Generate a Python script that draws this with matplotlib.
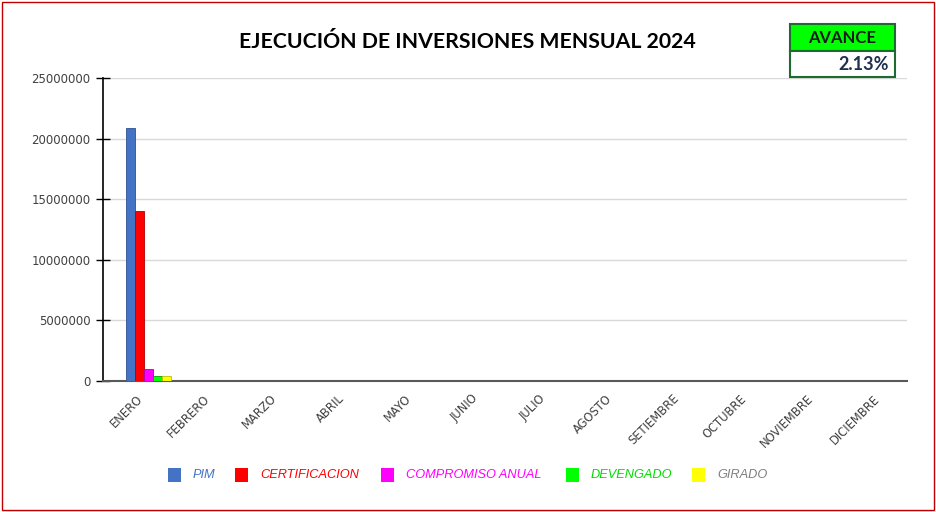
import matplotlib
matplotlib.use("Agg")
import matplotlib.pyplot as plt
from matplotlib.patches import Rectangle
import numpy as np

months = ["ENERO", "FEBRERO", "MARZO", "ABRIL", "MAYO", "JUNIO", "JULIO",
          "AGOSTO", "SETIEMBRE", "OCTUBRE", "NOVIEMBRE", "DICIEMBRE"]
series_names = ["PIM", "CERTIFICACION", "COMPROMISO ANUAL", "DEVENGADO", "GIRADO"]
pim = [20880000, 0, 0, 0, 0, 0, 0, 0, 0, 0, 0, 0]
certificacion = [14000000, 0, 0, 0, 0, 0, 0, 0, 0, 0, 0, 0]
compromiso = [1000000, 0, 0, 0, 0, 0, 0, 0, 0, 0, 0, 0]
devengado = [445000, 0, 0, 0, 0, 0, 0, 0, 0, 0, 0, 0]
girado = [440000, 0, 0, 0, 0, 0, 0, 0, 0, 0, 0, 0]
yticks = [0, 5000000, 10000000, 15000000, 20000000, 25000000]
avance = "2.13%"

colors = ["#4472C4", "#FF0000", "#FF00FF", "#00FF00", "#FFFF00"]
text_colors = ["#4472C4", "#FF0000", "#FF00FF", "#00DD00", "#7F7F7F"]
side_colors = ["#2F528F", "#B00000", "#B000B0", "#00A000", "#C0C000"]

W, H = 937, 512
fig = plt.figure(figsize=(W / 100, H / 100), dpi=100)
fig.patch.set_facecolor("white")
fig.add_artist(Rectangle((0.002, 0.003), 0.995, 0.993, transform=fig.transFigure,
                         fill=False, edgecolor="#C00000", linewidth=1.0))

ax = fig.add_axes([103 / W, 1 - 381 / H, (907 - 103) / W, (381 - 78) / H])
x = np.arange(len(months))
bw = 0.134
offsets = [-0.09 + i * bw for i in range(5)]
data = [pim, certificacion, compromiso, devengado, girado]
for i, (vals, c, sc) in enumerate(zip(data, colors, side_colors)):
    ax.bar(x + offsets[i], vals, width=bw * 0.95, color=c, edgecolor=sc,
           linewidth=0.6, zorder=3, label=series_names[i])

ax.set_xlim(-0.5, 11.5)
ax.set_ylim(0, 25000000)
ax.set_yticks(yticks)
ax.set_yticklabels([str(v) for v in yticks], fontsize=8.5, color="#404040",
                   family="DejaVu Sans")
ax.yaxis.grid(True, color="#D9D9D9", linewidth=1.0, zorder=0)
ax.set_axisbelow(True)
ax.set_xticks(x)
ax.set_xticklabels(months, rotation=45, ha="right", rotation_mode="anchor",
                   fontsize=8.3, color="#404040", family="DejaVu Sans")
ax.tick_params(axis="x", length=0, pad=8)
ax.tick_params(axis="y", direction="inout", length=10, width=1.0, color="black", pad=4)
for s in ["top", "right"]:
    ax.spines[s].set_visible(False)
ax.spines["left"].set_color("black")
ax.spines["left"].set_linewidth(1.2)
ax.spines["bottom"].set_color("#595959")
ax.spines["bottom"].set_linewidth(1.5)

fig.text(467 / W, 1 - 42 / H, "EJECUCIÓN DE INVERSIONES MENSUAL 2024",
         ha="center", va="center", fontsize=15.3, fontweight="bold",
         family="Lato", color="black")

# AVANCE box
fig.add_artist(Rectangle((790 / W, 1 - 51 / H), 105 / W, 27 / H, transform=fig.transFigure,
                         facecolor="#00FF00", edgecolor="#1E6B30", linewidth=1.5))
fig.add_artist(Rectangle((790 / W, 1 - 77 / H), 105 / W, 26 / H, transform=fig.transFigure,
                         facecolor="white", edgecolor="#1E6B30", linewidth=1.5))
fig.text(842 / W, 1 - 38 / H, "AVANCE", ha="center", va="center", fontsize=12,
         fontweight="bold", family="Lato", color="#1a1a1a")
fig.text(889 / W, 1 - 64 / H, avance, ha="right", va="center", fontsize=13,
         fontweight="bold", family="Lato", color="#1F2F4F")

# legend
leg_x = [168, 235, 381, 566, 692]
for i in range(5):
    fig.add_artist(Rectangle((leg_x[i] / W, 1 - 482 / H), 13 / W, 14 / H,
                             transform=fig.transFigure, facecolor=colors[i],
                             edgecolor="none"))
    fig.text((leg_x[i] + 25) / W, 1 - 475 / H, series_names[i], ha="left", va="center",
             fontsize=9.2, style="italic", color=text_colors[i], family="Liberation Sans")

fig.savefig("out.png", dpi=100)
